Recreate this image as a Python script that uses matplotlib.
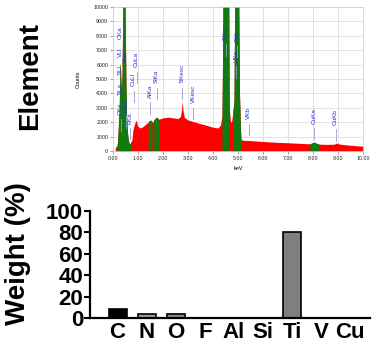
import numpy as np
import matplotlib.pyplot as plt

plt.rcParams['font.family'] = ['Liberation Sans', 'DejaVu Sans']

# EDS spectrum (keV, counts)
energy = [0.00, 0.08, 0.10, 0.15, 0.18, 0.20, 0.25, 0.28, 0.30, 0.33, 0.36, 0.38, 0.40, 0.44,
          0.48, 0.50, 0.52, 0.55, 0.60, 0.65, 0.70, 0.74, 0.76, 0.80, 0.85, 0.90, 0.93,
          0.97, 1.00, 1.10, 1.20, 1.30, 1.41, 1.45, 1.50, 1.56, 1.60, 1.63, 1.70, 1.75, 1.80,
          1.84, 1.90, 2.00, 2.20, 2.40, 2.60, 2.70, 2.74, 2.77, 2.80, 2.85, 3.00, 3.20, 3.50,
          3.80, 4.00, 4.20, 4.30, 4.36, 4.38, 4.40, 4.50, 4.63, 4.65, 4.70, 4.75, 4.80,
          4.84, 4.87, 4.95, 5.03, 5.06, 5.10, 5.12, 5.20, 5.50, 6.00, 6.50, 7.00, 7.50, 7.87,
          8.00, 8.05, 8.10, 8.23, 8.50, 8.85, 8.95, 9.05, 9.50, 10.00]
counts = [0, 0, 250, 350, 600, 1200, 3000, 6100, 5800, 4200, 5000, 8000, 10500, 10500,
          10500, 7500, 4500, 2000, 900, 500, 550, 700, 800, 1500, 1800, 2050, 2150,
          1800, 1700, 1600, 1700, 1850, 2000, 2100, 2150, 2050, 2000, 2150, 2300, 2350, 2250,
          2200, 2250, 2300, 2350, 2300, 2250, 2400, 2900, 3450, 2800, 2350, 2150, 2050, 1900,
          1750, 1650, 1600, 1800, 2500, 6000, 10500, 10500, 10500, 3000, 2000, 2100, 2800,
          3500, 10500, 10500, 10500, 4000, 1500, 800, 750, 720, 660, 610, 570, 530, 500,
          580, 620, 560, 480, 460, 470, 560, 480, 400, 330]

# integration windows drawn in green
windows = [(0.18, 0.74), (1.41, 1.56), (1.63, 1.84), (4.36, 4.65), (4.80, 5.12), (7.87, 8.23)]

# peak labels: name, energy, count where the text starts
peak_names = ['OKa', 'VLl', 'TiLl', 'TiLa', 'CKa', 'VLa', 'NKa', 'FKa', 'CuLl', 'CuLa',
              'AlKa', 'SiKa', 'TiKesc', 'VKesc', 'TiKa', 'TiKb', 'VKa', 'VKb', 'CuKa', 'CuKb']
peak_energy = [0.30, 0.30, 0.30, 0.30, 0.30, 0.50, 0.50, 0.68, 0.82, 0.94,
               1.49, 1.74, 2.77, 3.21, 4.51, 4.96, 4.92, 5.43, 8.04, 8.90]
peak_text_y = [7800, 6550, 5300, 3900, 2500, 6100, 2700, 1900, 4500, 5800,
               3700, 4700, 4700, 3300, 7700, 7600, 6200, 2200, 1900, 1800]

# element weight percentages
elements = ['C', 'N', 'O', 'F', 'Al', 'Si', 'Ti', 'V', 'Cu']
weight = [8.3, 3.8, 3.8, 0, 0, 0, 80.5, 0, 0]
bar_colors = ['#000000', '#a0a0a0', '#8c8c8c', '#808080', '#808080', '#808080', '#7f7f7f', '#808080', '#808080']

fig = plt.figure(figsize=(3.81, 3.6), dpi=100)

# ---- spectrum ----
ax1 = fig.add_axes([113/381, 1 - 151/360, 250/381, 144/360])
e = np.array(energy)
c = np.array(counts)
ax1.fill_between(e, 0, c, color='#ff0000', linewidth=0)
for lo, hi in windows:
    m = (e >= lo - 1e-9) & (e <= hi + 1e-9)
    ax1.fill_between(e[m], 0, c[m], color='#117a11', linewidth=0)
for name, x, y in zip(peak_names, peak_energy, peak_text_y):
    # marker line only under the lowest label of a stacked column
    lowest = all(y <= yy for xx, yy in zip(peak_energy, peak_text_y) if xx == x)
    if lowest:
        ax1.plot([x, x], [y - 1100, y - 300], color='#8f9fd8', lw=0.6)
    ax1.text(x, y, name, rotation=90, ha='center', va='bottom', fontsize=4.6, color='#3030d0')
ax1.set_xlim(0, 10)
ax1.set_ylim(0, 10000)
ax1.set_xticks(np.arange(0, 10.1, 1))
ax1.set_xticklabels(['%.2f' % v for v in np.arange(0, 10.1, 1)])
ax1.set_yticks(np.arange(0, 10001, 1000))
ax1.grid(color='#d8d8d8', lw=0.5)
ax1.set_axisbelow(True)
ax1.tick_params(labelsize=3.8, length=2, width=0.4, colors='#555555', labelcolor='#222222', pad=1.5)
for s in ax1.spines.values():
    s.set_color('#cccccc')
    s.set_linewidth(0.5)
ax1.set_xlabel('keV', fontsize=4, labelpad=4)
ax1.set_ylabel('Counts', fontsize=4, labelpad=9)
fig.text(30/381, 1 - 76/360, 'Element', rotation=90, ha='center', va='center',
         fontsize=20, fontweight='bold')

# ---- weight bars ----
ax2 = fig.add_axes([90/381, 1 - 318/360, 280/381, 107/360])
xs = np.arange(len(elements))
ax2.bar(xs, weight, width=0.62, color=bar_colors, edgecolor='black', linewidth=1.2)
ax2.set_xlim(-0.95, 8.68)
ax2.set_ylim(0, 100)
ax2.set_yticks([0, 20, 40, 60, 80, 100])
ax2.set_xticks(xs)
ax2.set_xticklabels(elements, fontsize=16, fontweight='bold')
for lab in ax2.get_yticklabels():
    lab.set_fontweight('bold')
ax2.tick_params(axis='y', labelsize=16, width=1.5, length=4, pad=1)
ax2.tick_params(axis='x', length=0, pad=3)
ax2.spines['top'].set_visible(False)
ax2.spines['right'].set_visible(False)
ax2.spines['left'].set_linewidth(1.6)
ax2.spines['bottom'].set_linewidth(1.6)
ax2.set_ylabel('Weight (%)', fontsize=20, fontweight='bold')
ax2.yaxis.set_label_coords(-0.21, 0.6)

fig.savefig('out.png', dpi=100)
